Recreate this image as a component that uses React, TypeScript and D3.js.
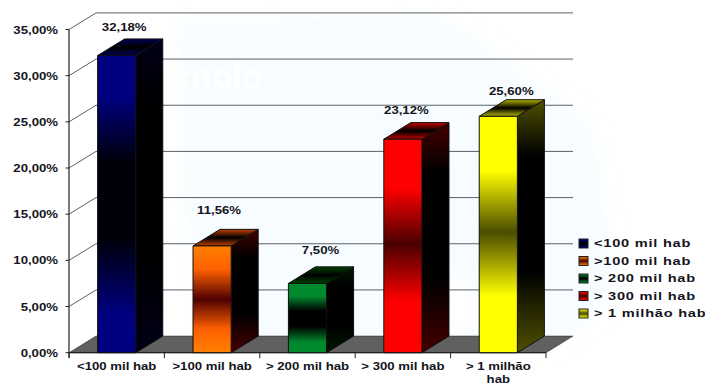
import React from "react";
import * as d3 from "d3";

const categories = ["<100 mil hab", ">100 mil hab", "> 200 mil hab", "> 300 mil hab", "> 1 milhão hab"];
const axisLines = [["<100 mil hab"], [">100 mil hab"], ["> 200 mil hab"], ["> 300 mil hab"], ["> 1 milhão", "hab"]];
const shares = [32.18, 11.56, 7.5, 23.12, 25.6];

// Hand-placed value labels: horizontal and vertical nudge from the bar's centre and top.
const labelDx = [7.5, 7, 13, 3.5, 13];
const labelDy = [-25, -32, -29.5, -25.5, -21.6];

const frontColors = ["#000080", "#ff8000", "#008a2e", "#ff0000", "#ffff00"];
const midColors = ["#ff6000"];
const faceBands = [
  { light: "#000080", mid: "#000000", side: "#000018", top: "#000050" },
  { light: "#ff8000", mid: "#500000", side: "#450000", top: "#c04000" },
  { light: "#008a2e", mid: "#000000", side: "#001800", top: "#004000" },
  { light: "#ff0000", mid: "#4a0000", side: "#450000", top: "#c00000" },
  { light: "#ffff00", mid: "#4c4c00", side: "#505000", top: "#b4b400" },
];

const W = 705;
const H = 385;
const DEPTH_X = 27;
const DEPTH_Y = -16.6;
const BASE_Y = 352.7;
const TOP_Y = 29.5;
const LEFT = 69;
const RIGHT = 546;
const TEXT_X = 1.2;
const FONT = "'Liberation Sans', Arial, sans-serif";
const INK = "#141420";

const pct = (v: number) => `${v.toFixed(2).replace(".", ",")}%`;

function Stretched({ x, y, anchor = "middle", size = 11, sx = TEXT_X, spacing = 0, fill = INK, children }: any) {
  return (
    <text
      transform={`translate(${x},${y}) scale(${sx},1)`}
      textAnchor={anchor}
      fontFamily={FONT}
      fontWeight="bold"
      fontSize={size}
      letterSpacing={spacing}
      fill={fill}
    >
      {children}
    </text>
  );
}

function frontStops(i: number) {
  const b = faceBands[i];
  if (i === 0) {
    return [[0, b.light], [0.14, b.light], [0.36, "#000008"], [0.61, "#000008"], [0.87, b.light], [1, b.light]];
  }
  if (i === 1) {
    return [[0, b.light], [0.22, midColors[0]], [0.5, b.mid], [0.78, midColors[0]], [1, b.light]];
  }
  if (i === 2) {
    return [[0, b.light], [0.18, b.light], [0.4, "#000000"], [0.62, "#000000"], [0.85, b.light], [1, b.light]];
  }
  return [[0, b.light], [0.23, b.light], [0.49, b.mid], [0.76, b.light], [1, b.light]];
}

function sideStops(i: number) {
  const b = faceBands[i];
  return [[0, b.side], [0.22, "#000000"], [0.68, "#000000"], [1, b.side]];
}

function topStops(i: number) {
  const b = faceBands[i];
  return [[0, b.top], [0.5, "#000000"], [1, b.top]];
}

function Gradient({ id, stops }: { id: string; stops: any[] }) {
  return (
    <linearGradient id={id} x1="0" y1="0" x2="0" y2="1">
      {stops.map(([o, c], k) => (
        <stop key={k} offset={o} stopColor={c} />
      ))}
    </linearGradient>
  );
}

export default function App() {
  const y = d3.scaleLinear().domain([0, 35]).range([BASE_Y, TOP_Y]);
  const x = d3.scaleBand<string>().domain(categories).range([LEFT, RIGHT]).paddingInner(0.6).paddingOuter(0.3);
  const step = x.step();
  const ticks = y.ticks(7);
  const tickXs = d3.range(categories.length + 1).map((k) => LEFT + k * step);
  const poly = d3.line<[number, number]>();

  return (
    <svg width={W} height={H} style={{ position: "absolute", left: 0, top: 0, display: "block", background: "#fff" }}>
      <defs>
        <filter id="soft" x="-10%" y="-10%" width="120%" height="120%">
          <feGaussianBlur stdDeviation="9" />
        </filter>
        <filter id="softText" x="-10%" y="-20%" width="120%" height="140%">
          <feGaussianBlur stdDeviation="0.8" />
        </filter>
        {categories.map((_, i) => (
          <React.Fragment key={i}>
            <Gradient id={`front${i}`} stops={frontStops(i)} />
            <Gradient id={`side${i}`} stops={sideStops(i)} />
            <Gradient id={`top${i}`} stops={topStops(i)} />
          </React.Fragment>
        ))}
      </defs>

      {/* faint backdrop behind the plot */}
      <g filter="url(#soft)">
        <path d="M180 22 L445 20 L590 125 L615 295 L555 345 L195 345 Z" fill="#f6fcff" />
        <rect x={163} y={275} width={28} height={60} fill="#ffffff" />
        <rect x={425} y={275} width={50} height={60} fill="#ffffff" />
      </g>
      <text x={172} y={88} fontFamily={FONT} fontWeight="bold" fontSize={34} fill="#ffffff" filter="url(#softText)">cnolo</text>

      {/* floor */}
      <path
        d={poly([[LEFT, BASE_Y], [LEFT + DEPTH_X, BASE_Y + DEPTH_Y], [RIGHT + DEPTH_X, BASE_Y + DEPTH_Y], [RIGHT, BASE_Y]]) + "Z"}
        fill="#606060"
        stroke="#303030"
        strokeWidth={0.6}
      />

      {/* gridlines wrapping the left wall and the back wall */}
      {ticks.filter((t) => t > 0).map((t) => (
        <path
          key={t}
          d={poly([[LEFT, y(t)], [LEFT + DEPTH_X, y(t) + DEPTH_Y], [RIGHT + DEPTH_X, y(t) + DEPTH_Y]])!}
          fill="none"
          stroke="#5c6068"
          strokeWidth={1}
        />
      ))}

      {/* value axis */}
      <line x1={LEFT} x2={LEFT} y1={TOP_Y} y2={BASE_Y + 5} stroke="#222" strokeWidth={1.2} />
      {ticks.map((t) => (
        <g key={t}>
          <line x1={LEFT - 3.5} x2={LEFT} y1={y(t)} y2={y(t)} stroke="#222" strokeWidth={1} />
          <Stretched x={58} y={y(t) + 4} anchor="end">{pct(t)}</Stretched>
        </g>
      ))}

      {/* category axis */}
      <line x1={LEFT} x2={RIGHT} y1={BASE_Y} y2={BASE_Y} stroke="#222" strokeWidth={1.2} />
      {tickXs.map((tx) => (
        <line key={tx} x1={tx} x2={tx} y1={BASE_Y} y2={BASE_Y + 5.5} stroke="#222" strokeWidth={1} />
      ))}

      {/* bars: front, side and top faces */}
      {categories.map((c, i) => {
        const x0 = x(c)!;
        const x1 = x0 + x.bandwidth();
        const yt = y(shares[i]);
        return (
          <g key={c} stroke="#101010" strokeWidth={1} strokeLinejoin="round">
            <path
              d={poly([[x1, yt], [x1 + DEPTH_X, yt + DEPTH_Y], [x1 + DEPTH_X, BASE_Y + DEPTH_Y], [x1, BASE_Y]]) + "Z"}
              fill={`url(#side${i})`}
            />
            <path
              d={poly([[x0, yt], [x0 + DEPTH_X, yt + DEPTH_Y], [x1 + DEPTH_X, yt + DEPTH_Y], [x1, yt]]) + "Z"}
              fill={`url(#top${i})`}
            />
            <rect x={x0} y={yt} width={x1 - x0} height={BASE_Y - yt} fill={`url(#front${i})`} />
          </g>
        );
      })}

      {/* value labels */}
      {categories.map((c, i) => (
        <Stretched key={c} x={x(c)! + x.bandwidth() / 2 + labelDx[i]} y={y(shares[i]) + labelDy[i]}>
          {pct(shares[i])}
        </Stretched>
      ))}

      {/* category labels */}
      {categories.map((c, i) =>
        axisLines[i].map((line, k) => (
          <Stretched key={line} x={x(c)! + x.bandwidth() / 2} y={370 + k * 12.5}>
            {line}
          </Stretched>
        ))
      )}

      {/* legend */}
      {categories.map((c, i) => {
        const ly = 239 + i * 17.5;
        return (
          <g key={c}>
            <linearGradient id={`legend${i}`} x1="0" y1="0" x2="0" y2="1">
              <stop offset={0} stopColor={frontColors[i]} />
              <stop offset={0.5} stopColor={faceBands[i].mid} />
              <stop offset={1} stopColor={frontColors[i]} />
            </linearGradient>
            <rect x={579} y={ly} width={9} height={9} fill={`url(#legend${i})`} stroke="#222" strokeWidth={1} />
            <Stretched x={594} y={ly + 8} anchor="start" sx={1.27} spacing={0.6} size={11.5}>
              {c}
            </Stretched>
          </g>
        );
      })}
    </svg>
  );
}
